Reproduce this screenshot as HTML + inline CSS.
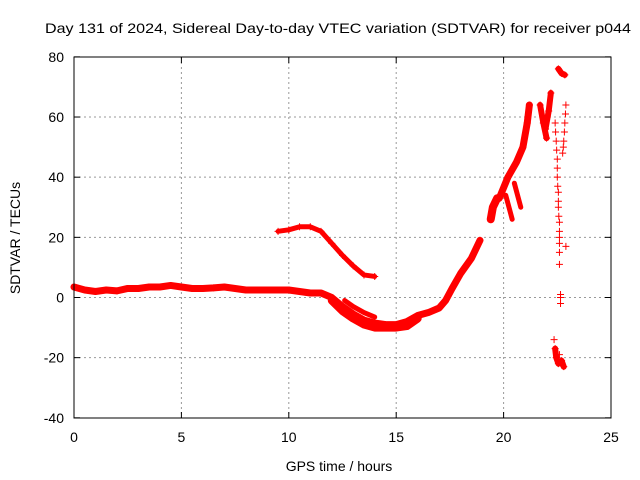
<!DOCTYPE html>
<html><head><meta charset="utf-8"><style>
body{margin:0;background:#fff}
svg{display:block;font-family:"Liberation Sans",sans-serif}
</style></head><body>
<svg id="c" width="640" height="480">
<rect width="640" height="480" fill="#fff"/>
<text x="338" y="33" font-size="14" text-anchor="middle" textLength="586" lengthAdjust="spacingAndGlyphs">Day 131 of 2024, Sidereal Day-to-day VTEC variation (SDTVAR) for receiver p044</text>
<text x="339" y="471" font-size="14" text-anchor="middle">GPS time / hours</text>
<text transform="translate(20,238) rotate(-90)" font-size="14" text-anchor="middle">SDTVAR / TECUs</text>
<g id="grid"></g><g id="marks"></g>
<rect x="74" y="57" width="537" height="361" fill="none" stroke="#000" stroke-width="1"/>
</svg>
<script>
const xTicks=[0,5,10,15,20,25];
const yTicks=[-40,-20,0,20,40,60,80];
const mainBand=[[0,3.5],[0.5,2.5],[1,2],[1.5,2.5],[2,2.2],[2.5,3],[3,3],[3.5,3.5],[4,3.5],[4.5,4],[5,3.5],[5.5,3],[6,3],[6.5,3.2],[7,3.5],[7.5,3],[8,2.5],[8.5,2.5],[9,2.5],[9.5,2.5],[10,2.5],[10.5,2],[11,1.5],[11.5,1.5],[12,0],[12.5,-3],[13,-5.5],[13.5,-7.5],[14,-8.5],[14.5,-9],[15,-9],[15.5,-8],[16,-6],[16.5,-5],[17,-3.5],[17.3,-1],[17.6,3],[18,8],[18.5,13],[18.9,19]];
const lowerBand=[[12,-1],[12.5,-4.5],[13,-7],[13.5,-9],[14,-10],[14.5,-10],[15,-10],[15.5,-9.5],[16,-7]];
const upperBranch=[[12.6,-1],[13,-3],[13.5,-5],[14,-6.5]];
const upperArc=[[9.5,22],[10,22.5],[10.5,23.5],[11,23.5],[11.5,22],[12,18],[12.5,14],[13,10.5],[13.5,7.5],[14,7]];
const blob19=[[19.4,26],[19.5,30],[19.7,33]];
const rise20=[[19.8,33],[20.2,40],[20.6,45],[20.9,50],[21.1,58],[21.2,64]];
const branchA=[[20.1,34],[20.25,30],[20.4,26]];
const branchB=[[20.5,38],[20.65,34],[20.8,30]];
const rise22a=[[21.7,64],[21.85,58],[22.0,53]];
const rise22b=[[22.2,68],[22.1,62],[21.95,56]];
const topBlob=[[22.55,76],[22.7,74.5],[22.85,74]];
const column=[[22.4,58],[22.42,55],[22.45,52],[22.47,49],[22.5,46],[22.5,43],[22.5,40],[22.52,37],[22.55,35],[22.55,32],[22.55,30],[22.57,27],[22.6,25],[22.6,22],[22.6,20],[22.6,18],[22.6,15],[22.6,11],[22.65,1],[22.65,0],[22.65,-2]];
const column2=[[22.9,64],[22.88,61],[22.85,58],[22.83,55],[22.8,52],[22.78,50],[22.75,48],[22.9,17]];
const bottom=[[22.35,-14],[22.4,-17],[22.45,-20],[22.55,-22],[22.7,-21],[22.8,-23],[22.6,-19]];
const X=h=>74+h*21.48, Y=v=>297.5-v*3.008;
const NS="http://www.w3.org/2000/svg";
const g=document.getElementById('grid'), m=document.getElementById('marks');
function mk(t,a,p){const e=document.createElementNS(NS,t);for(const k in a)e.setAttribute(k,a[k]);p.appendChild(e);return e;}
xTicks.forEach(t=>{const x=X(t);
 if(t>0&&t<25){const l=mk('line',{x1:x,x2:x,y1:57,y2:418,stroke:'#999','stroke-dasharray':'2,3'},g);}
 mk('line',{x1:x,x2:x,y1:418,y2:412,stroke:'#000'},g);mk('line',{x1:x,x2:x,y1:57,y2:63,stroke:'#000'},g);
 const s=mk('text',{x:x,y:442,'font-size':14,'text-anchor':'middle'},g);s.textContent=t;
 });
yTicks.forEach(t=>{const y=Y(t);
 if(t>-40&&t<80){const l=mk('line',{x1:74,x2:611,y1:y,y2:y,stroke:'#999','stroke-dasharray':'2,3'},g);}
 mk('line',{x1:74,x2:80,y1:y,y2:y,stroke:'#000'},g);mk('line',{x1:605,x2:611,y1:y,y2:y,stroke:'#000'},g);
 const s=mk('text',{x:64,y:y+5,'font-size':14,'text-anchor':'end'},g);s.textContent=t;
 });
function band(arr,w,name){
 const pl=mk('polyline',{points:arr.map(p=>X(p[0])+','+Y(p[1])).join(' '),fill:'none',stroke:'#f00','stroke-width':w,'stroke-linejoin':'round','stroke-linecap':'round'},m);
 
}
function pts(arr,name){arr.forEach(p=>{const x=X(p[0]),y=Y(p[1]);
 const e=mk('path',{d:`M${x-3.5},${y}H${x+3.5}M${x},${y-3.5}V${y+3.5}`,stroke:'#f00','stroke-width':1},m);
 });}
band(mainBand,7,'main-band');band(lowerBand,8,'lower-band');band(upperBranch,5,'upper-branch');
band(upperArc,5,'upper-arc');band(blob19,8,'blob-19h');band(rise20,7,'rise-20h');
band(branchA,5,'branch-a');band(branchB,5,'branch-b');band(rise22a,6,'rise-22h-a');band(rise22b,6,'rise-22h-b');
band(topBlob,6,'top-blob');
[mainBand,upperArc,rise20,rise22a,rise22b,topBlob].forEach(a=>pts(a,'sdtvar-point'));
pts(column,'column-point');pts(column2,'column-point');pts(bottom,'bottom-point');
band(bottom.slice(1,6),6,'bottom-blob');
</script>
</body></html>
